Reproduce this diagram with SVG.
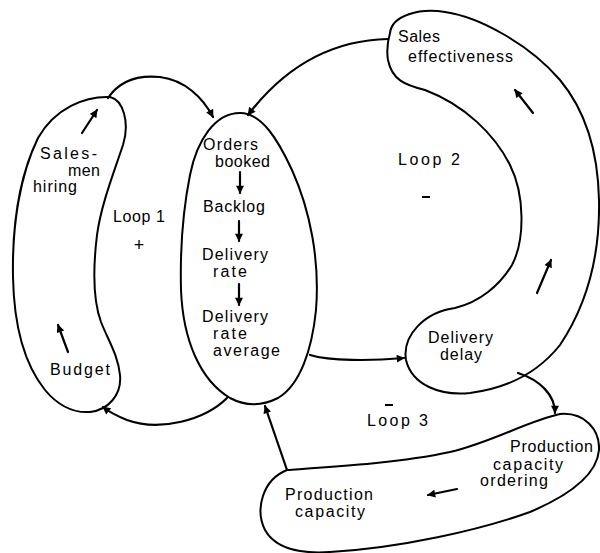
<svg xmlns="http://www.w3.org/2000/svg" width="600" height="553" viewBox="0 0 600 553">
<style>
.shape{fill:none;stroke:#000;stroke-width:2;stroke-linejoin:round}
.conn{fill:none;stroke:#000;stroke-width:2.2;stroke-linecap:round}
.t{font-family:"Liberation Sans","Arial",sans-serif;font-size:16px;fill:#000}
.sym{font-family:"Liberation Sans","Arial",sans-serif;font-size:18px;fill:#000;text-anchor:middle}
</style>
<defs>
<marker id="ah" viewBox="0 0 10 10" refX="9" refY="5" markerWidth="9" markerHeight="8" markerUnits="userSpaceOnUse" orient="auto">
<path d="M0 0 L10 5 L0 10 Z" fill="#000"/>
</marker>
</defs>
<rect width="600" height="553" fill="#fff"/>

<g id="node-salesmen-budget">
<path class="shape" d="M 110 97 C 85 96, 55 108, 38 138 C 20 175, 12 225, 13 277 C 14 330, 25 365, 45 390 C 60 408, 75 413, 90 412 C 108 410, 122 395, 120 375 C 118 355, 108 340, 101 322 C 93 300, 93 268, 97 235 C 101 205, 114 172, 123 145 C 130 122, 123 100, 110 97 Z"/>
<text class="t" x="40" y="159" textLength="57">Sales-</text>
<text class="t" x="68" y="176" textLength="32">men</text>
<text class="t" x="33" y="192" textLength="44">hiring</text>
<text class="t" x="50" y="375" textLength="60">Budget</text>
</g>

<g id="node-orders">
<path class="shape" d="M 240 113 C 215 113, 197 140, 190 175 C 183 210, 180 250, 181 290 C 183 340, 200 380, 230 398 C 245 406, 262 406, 278 398 C 300 385, 312 350, 316 310 C 320 260, 310 210, 292 170 C 278 140, 262 113, 240 113 Z"/>
<text class="t" x="203" y="150" textLength="55">Orders</text>
<text class="t" x="215" y="167" textLength="55">booked</text>
<text class="t" x="203" y="212" textLength="62">Backlog</text>
<text class="t" x="202" y="260" textLength="66">Delivery</text>
<text class="t" x="213" y="277" textLength="34">rate</text>
<text class="t" x="202" y="322" textLength="66">Delivery</text>
<text class="t" x="213" y="339" textLength="34">rate</text>
<text class="t" x="213" y="356" textLength="67">average</text>
</g>

<g id="node-effectiveness-delay">
<path class="shape" d="M 390 33 C 392 15, 420 8, 445 12 C 480 17, 530 45, 560 80 C 585 110, 598 150, 599 200 C 600 250, 590 300, 560 345 C 540 370, 510 388, 470 393 C 440 396, 412 385, 406 360 C 402 335, 425 312, 455 308 C 480 302, 500 285, 512 265 C 525 240, 525 195, 510 165 C 495 135, 465 105, 425 90 C 405 85, 392 80, 388 60 C 386 48, 388 40, 390 33 Z"/>
<text class="t" x="398" y="42" textLength="42">Sales</text>
<text class="t" x="408" y="62" textLength="105">effectiveness</text>
<text class="t" x="428" y="343" textLength="65">Delivery</text>
<text class="t" x="440" y="360" textLength="42">delay</text>
</g>

<g id="node-production">
<path class="shape" d="M 287 470 C 330 467, 400 463, 450 452 C 490 443, 530 420, 560 414 C 585 412, 600 430, 599 450 C 597 475, 570 495, 530 512 C 480 530, 400 548, 330 552 C 300 554, 275 548, 265 530 C 255 510, 262 480, 287 470 Z"/>
<text class="t" x="510" y="452" textLength="83">Production</text>
<text class="t" x="493" y="470" textLength="70">capacity</text>
<text class="t" x="480" y="486" textLength="68">ordering</text>
<text class="t" x="285" y="500" textLength="88">Production</text>
<text class="t" x="295" y="517" textLength="70">capacity</text>
</g>

<g id="loop-labels">
<text class="t" x="113" y="222" textLength="52">Loop 1</text>
<text class="sym" x="139" y="251">+</text>
<text class="t" x="398" y="165" textLength="62">Loop 2</text>
<line x1="422" y1="197" x2="430" y2="197" stroke="#000" stroke-width="2"/>
<line x1="385" y1="405" x2="393" y2="405" stroke="#000" stroke-width="2"/>
<text class="t" x="367" y="426" textLength="61">Loop 3</text>
</g>

<g id="connectors">
<path class="conn" marker-end="url(#ah)" d="M 108 98 C 120 80, 140 75, 160 77 C 185 80, 203 98, 213 117"/>
<path class="conn" marker-end="url(#ah)" d="M 388 39 C 340 40, 290 60, 248 115"/>
<path class="conn" marker-end="url(#ah)" d="M 310 355 C 330 361, 370 361, 404 358"/>
<path class="conn" marker-end="url(#ah)" d="M 227 398 C 205 420, 160 432, 127 420 C 117 416, 108 411, 103 407"/>
<path class="conn" marker-end="url(#ah)" d="M 287 470 L 265 406"/>
<path class="conn" marker-end="url(#ah)" d="M 518 373 C 540 380, 555 395, 555 413"/>
<path class="conn" marker-end="url(#ah)" d="M 82 133 L 97 110"/>
<path class="conn" marker-end="url(#ah)" d="M 68 352 L 58 325"/>
<path class="conn" marker-end="url(#ah)" d="M 240 172 L 240 193"/>
<path class="conn" marker-end="url(#ah)" d="M 239 221 L 239 241"/>
<path class="conn" marker-end="url(#ah)" d="M 239 284 L 239 305"/>
<path class="conn" marker-end="url(#ah)" d="M 533 113 L 515 90"/>
<path class="conn" marker-end="url(#ah)" d="M 537 293 L 551 260"/>
<path class="conn" marker-end="url(#ah)" d="M 457 489 L 428 495"/>
</g>
</svg>
